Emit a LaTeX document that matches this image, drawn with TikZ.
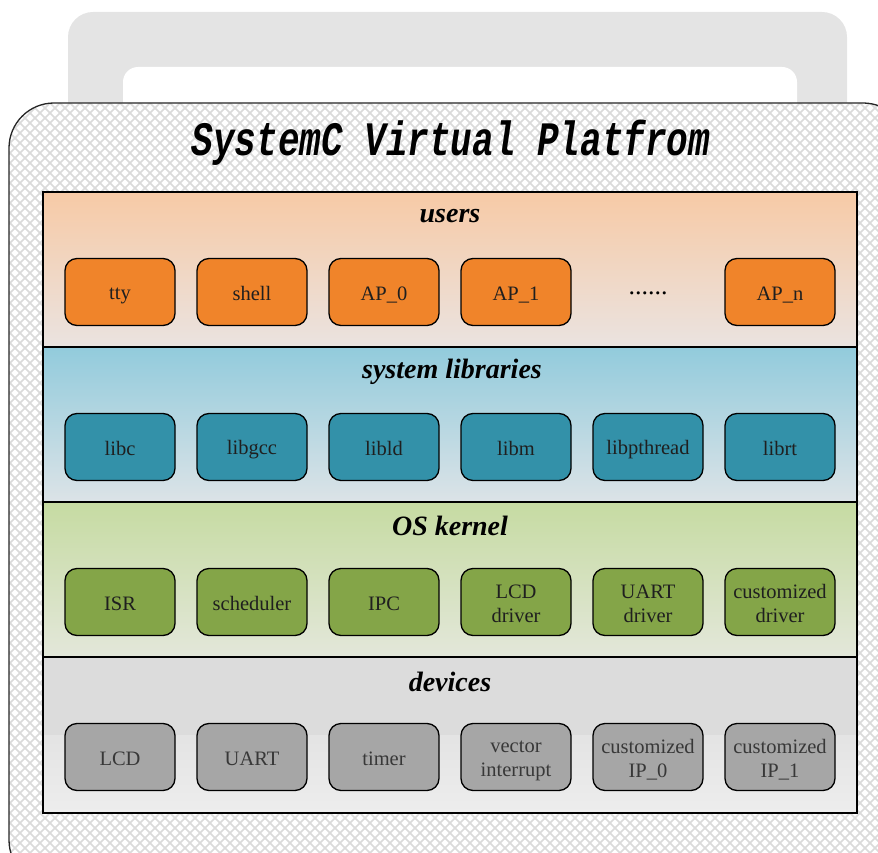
\documentclass[tikz,border=0pt]{standalone}
\usepackage{fontspec}
\setmainfont{Liberation Serif}
\newfontfamily\boxfont{Liberation Serif}
\newfontfamily\titlefont{Liberation Mono}
\usetikzlibrary{positioning}

\definecolor{handlegray}{HTML}{E4E4E4}
\definecolor{hatchgray}{HTML}{DADADA}
\definecolor{usrtop}{HTML}{F7CAA6}
\definecolor{usrbot}{HTML}{EAE3E0}
\definecolor{libtop}{HTML}{92CBDC}
\definecolor{libbot}{HTML}{DCE3E7}
\definecolor{ostop}{HTML}{C6DBA2}
\definecolor{osbot}{HTML}{E3E7DA}
\definecolor{devtop}{HTML}{DCDCDC}
\definecolor{devbot}{HTML}{EDEDED}
\definecolor{usrbox}{HTML}{F0842A}
\definecolor{libbox}{HTML}{3391A9}
\definecolor{osbox}{HTML}{84A548}
\definecolor{devbox}{HTML}{A6A6A6}

% even line height for one- and two-line labels
\newcommand{\lstr}{\rule[-4pt]{0pt}{24pt}}

\tikzset{
  modbox/.style={draw=black, line width=1.3pt, rounded corners=12pt,
    minimum width=110pt, minimum height=67pt, inner sep=0pt,
    align=center, text=black!88,
    font=\boxfont\fontsize{20.5}{24}\selectfont},
  usrmod/.style={modbox, fill=usrbox},
  libmod/.style={modbox, fill=libbox},
  osmod/.style={modbox, fill=osbox},
  devmod/.style={modbox, fill=devbox, text=black!78},
  layertitle/.style={font=\boxfont\fontsize{28}{30}\selectfont\bfseries\itshape},
  hatch/.style={draw=hatchgray, line width=1.5pt},
  panelline/.style={draw=black, line width=1.2pt},
}

\begin{document}
\begin{tikzpicture}[x=1pt, y=-1pt]
\useasboundingbox (0,0) rectangle (878,853);
\begin{scope}
\clip (0,0) rectangle (878,853);

% handle on top of the case
\fill[handlegray, rounded corners=25pt] (68,140) -- (68,12) -- (847,12) -- (847,140) -- cycle;
\fill[white, rounded corners=15pt] (123,140) -- (123,67) -- (797,67) -- (797,140) -- cycle;

% case body with diamond lattice
\fill[white, rounded corners=45pt] (9,103) rectangle (908,885);
\begin{scope}
  \clip[rounded corners=45pt] (9,103) rectangle (908,885);
  \foreach \i in {-790,-780,...,1700} {
    \draw[hatch] (\i,103) -- ++(790,790);
    \draw[hatch] (\i,103) -- ++(-790,790);
  }
\end{scope}
\draw[black!85, line width=1.3pt, rounded corners=45pt] (9,103) rectangle (908,885);
\end{scope}

\node[font=\titlefont\fontsize{48}{52}\selectfont\bfseries\itshape] (title) at (451,143)
  {\scalebox{0.75}[1]{SystemC Virtual Platfrom}};

% layer backgrounds
\shade[top color=usrtop, bottom color=usrbot] (43,192) rectangle (857,347);
\shade[top color=libtop, bottom color=libbot] (43,347) rectangle (857,502);
\shade[top color=ostop, bottom color=osbot] (43,502) rectangle (857,657);
\fill[devtop] (43,657) rectangle (857,735);
\shade[top color=devbot!96!black, bottom color=devbot] (43,735) rectangle (857,813);
\draw[panelline] (43,192) rectangle (857,813);
\draw[panelline] (43,347) -- (857,347);
\draw[panelline] (43,502) -- (857,502);
\draw[panelline] (43,657) -- (857,657);

% users
\node[layertitle] (tusers) at (450,216) {users};
\node[usrmod] (tty) at (120,292) {\lstr tty};
\node[usrmod] (shell) at (252,292) {\lstr shell};
\node[usrmod] (ap0) at (384,292) {\lstr AP\_0};
\node[usrmod] (ap1) at (516,292) {\lstr AP\_1};
\node[font=\boxfont\fontsize{26}{28}\selectfont, anchor=base] (udots) at (648,294) {......};
\node[usrmod] (apn) at (780,292) {\lstr AP\_n};

% system libraries
\node[layertitle] (tlibs) at (452,372) {system libraries};
\node[libmod] (libc) at (120,447) {\lstr libc};
\node[libmod] (libgcc) at (252,447) {\lstr libgcc};
\node[libmod] (libld) at (384,447) {\lstr libld};
\node[libmod] (libm) at (516,447) {\lstr libm};
\node[libmod] (libpthread) at (648,447) {\lstr libpthread};
\node[libmod] (librt) at (780,447) {\lstr librt};

% OS kernel
\node[layertitle] (tkernel) at (450,526) {OS kernel};
\node[osmod] (isr) at (120,602) {\lstr ISR};
\node[osmod] (sched) at (252,602) {\lstr scheduler};
\node[osmod] (ipc) at (384,602) {\lstr IPC};
\node[osmod] (lcddrv) at (516,602) {\lstr LCD\\\lstr driver};
\node[osmod] (uartdrv) at (648,602) {\lstr UART\\\lstr driver};
\node[osmod] (custdrv) at (780,602) {\lstr customized\\\lstr driver};

% devices
\node[layertitle] (tdevices) at (450,682) {devices};
\node[devmod] (lcd) at (120,757) {\lstr LCD};
\node[devmod] (uart) at (252,757) {\lstr UART};
\node[devmod] (timer) at (384,757) {\lstr timer};
\node[devmod] (vint) at (516,757) {\lstr vector\\\lstr interrupt};
\node[devmod] (ip0) at (648,757) {\lstr customized\\\lstr IP\_0};
\node[devmod] (ip1) at (780,757) {\lstr customized\\\lstr IP\_1};
\end{tikzpicture}
\end{document}
